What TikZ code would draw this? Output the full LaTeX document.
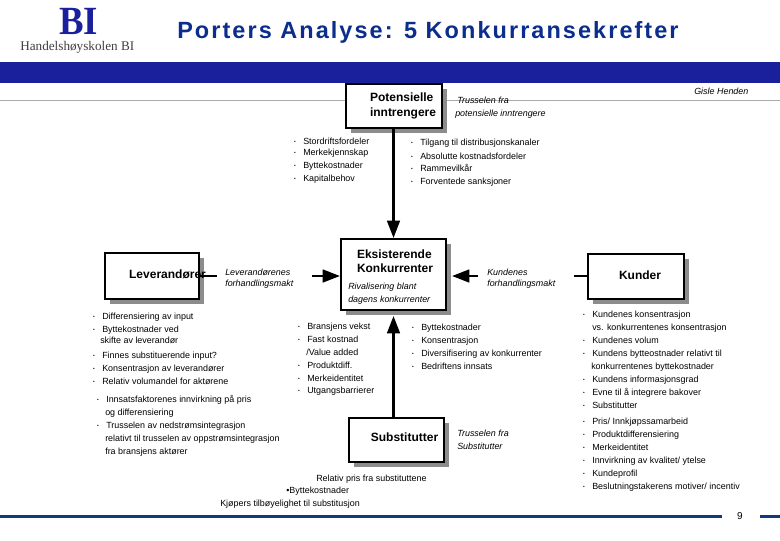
\documentclass[tikz,border=0pt]{standalone}
\usepackage{fontspec}
\usetikzlibrary{arrows.meta,shadows,calc}
\setmainfont{Liberation Sans}
\newfontfamily\serifface{Liberation Serif}
\newfontfamily\titleface[LetterSpace=8.8]{Liberation Sans}
\definecolor{barblue}{HTML}{1A1F9B}
\definecolor{titleblue}{HTML}{0B2E8C}
\definecolor{footblue}{HTML}{123A7A}
\newcommand{\shifted}[3]{\makebox[0pt]{\hspace*{\dimexpr#1pt*3/2\relax}\raisebox{#2pt}[0pt][0pt]{\begin{tabular}{@{}l@{}}#3\end{tabular}}}}
\newcommand{\blt}{\makebox[0pt][r]{\raisebox{.6pt}{\fontsize{3.6}{4}\selectfont •}\hspace{5.6pt}}}
\tikzset{
  box/.style={draw=black,line width=1.5pt,fill=white,inner sep=0pt,
    font=\fontsize{9}{10.8}\selectfont\bfseries,
    copy shadow={shadow xshift=3.5pt,shadow yshift=-3.5pt,draw=none,fill=black!45}},
  sm/.style={anchor=base west,inner sep=0pt,yshift=-2.8pt,font=\fontsize{6.7}{7.5}\selectfont},
  itx/.style={sm,font=\fontsize{6.7}{7.5}\selectfont\itshape},
  conn/.style={line width=1.9pt,draw=black},
  connhead/.style={conn,-{Triangle[length=13pt,width=9.5pt]}}
}
\begin{document}
\begin{tikzpicture}[x=0.75pt,y=-0.75pt]
\useasboundingbox (0,0) rectangle (780,540);
\fill[white] (0,0) rectangle (780,540);
% header
\fill[barblue] (0,62) rectangle (780,83);
\draw[black!33,line width=.8pt] (0,100.5) -- (780,100.5);
\node[inner sep=0pt,text=barblue,anchor=base,font=\fontsize{30}{31}\selectfont\serifface\bfseries] (logo) at (78.5,34) {\scalebox{.92}[1]{BI}};
\node[inner sep=0pt,text=black!75,anchor=base west,font=\fontsize{9.9}{11}\selectfont\serifface] (school) at (20,50) {Handelshøyskolen BI};
\node[inner sep=0pt,text=titleblue,anchor=base west,font=\fontsize{17.6}{20}\selectfont\titleface\bfseries] (title) at (177,38) {Porters Analyse: 5 Konkurransekrefter};
% boxes
\node[box,minimum width=72pt,minimum height=33pt] (pot) at (394,106) {\shifted{9}{-2.2}{Potensielle\\inntrengere}};
\node[box,minimum width=78.75pt,minimum height=53.25pt] (eks) at (393.5,274.5) {\shifted{1.5}{6.8}{Eksisterende\\Konkurrenter}};
\node[box,minimum width=70.5pt,minimum height=34.5pt] (lev) at (152,276) {\shifted{15.5}{-2.2}{Leverandører}};
\node[box,minimum width=72pt,minimum height=33.75pt] (kun) at (636,276.5) {\shifted{4}{-2.2}{Kunder}};
\node[box,minimum width=71.25pt,minimum height=33pt] (sub) at (396.5,440) {\shifted{8}{-1.5}{Substitutter}};
% connectors
\coordinate (levgap) at (217,276);
\coordinate (levin) at (312,276);
\coordinate (kungap) at (574,276);
\coordinate (kunin) at (478,276);
\draw[connhead] (eks.north |- pot.south) -- (eks.north);
\draw[conn] (lev.east |- levgap) -- (levgap);
\draw[connhead] (levin) -- (levin -| eks.west);
\draw[conn] (kun.west |- kungap) -- (kungap);
\draw[connhead] (kunin) -- ($(kunin -| eks.east)+(5,0)$);
\draw[connhead] (eks.south |- sub.north) -- ($(eks.south)+(0,5)$);
% italic notes
\node[itx] (gisle) at (694,91) {Gisle Henden};
\node[itx] (tp1) at (457,100) {Trusselen fra};
\node[itx] (tp2) at (455,113) {potensielle inntrengere};
\node[itx] (lm1) at (225,272) {Leverandørenes};
\node[itx] (lm2) at (225,283) {forhandlingsmakt};
\node[itx] (riv1) at (348,286) {Rivalisering blant};
\node[itx] (riv2) at (348,299) {dagens konkurrenter};
\node[itx] (km1) at (487,272) {Kundenes};
\node[itx] (km2) at (487,283) {forhandlingsmakt};
\node[itx] (ts1) at (457,433) {Trusselen fra};
\node[itx] (ts2) at (457,446) {Substitutter};
% entry barriers
\node[sm] (a1) at (303,141) {\blt Stordriftsfordeler};
\node[sm] (a2) at (303,152) {\blt Merkekjennskap};
\node[sm] (a3) at (303,165) {\blt Byttekostnader};
\node[sm] (a4) at (303,178) {\blt Kapitalbehov};
\node[sm] (b1) at (420,142) {\blt Tilgang til distribusjonskanaler};
\node[sm] (b2) at (420,156) {\blt Absolutte kostnadsfordeler};
\node[sm] (b3) at (420,168) {\blt Rammevilkår};
\node[sm] (b4) at (420,181) {\blt Forventede sanksjoner};
% suppliers
\node[sm] (c1) at (102,316) {\blt Differensiering av input};
\node[sm] (c2) at (102,329) {\blt Byttekostnader ved};
\node[sm] (c3) at (100,340) {skifte av leverandør};
\node[sm] (c4) at (102,355) {\blt Finnes substituerende input?};
\node[sm] (c5) at (102,368) {\blt Konsentrasjon av leverandører};
\node[sm] (c6) at (102,381) {\blt Relativ volumandel for aktørene};
\node[sm] (c7) at (106,399) {\blt Innsatsfaktorenes innvirkning på pris};
\node[sm] (c8) at (105,412) {og differensiering};
\node[sm] (c9) at (106,425) {\blt Trusselen av nedstrømsintegrasjon};
\node[sm] (c10) at (105,438) {relativt til trusselen av oppstrømsintegrasjon};
\node[sm] (c11) at (105,451) {fra bransjens aktører};
% rivalry
\node[sm] (d1) at (307,326) {\blt Bransjens vekst};
\node[sm] (d2) at (307,339) {\blt Fast kostnad};
\node[sm] (d3) at (306,352) {/Value added};
\node[sm] (d4) at (307,365) {\blt Produktdiff.};
\node[sm] (d5) at (307,378) {\blt Merkeidentitet};
\node[sm] (d6) at (307,390) {\blt Utgangsbarrierer};
\node[sm] (e1) at (421,327) {\blt Byttekostnader};
\node[sm] (e2) at (421,340) {\blt Konsentrasjon};
\node[sm] (e3) at (421,353) {\blt Diversifisering av konkurrenter};
\node[sm] (e4) at (421,366) {\blt Bedriftens innsats};
% buyers
\node[sm] (f1) at (592,314) {\blt Kundenes konsentrasjon};
\node[sm] (f2) at (592,327) {vs. konkurrentenes konsentrasjon};
\node[sm] (f3) at (592,340) {\blt Kundenes volum};
\node[sm] (f4) at (592,353) {\blt Kundens bytteostnader relativt til};
\node[sm] (f5) at (591,366) {konkurrentenes byttekostnader};
\node[sm] (f6) at (592,379) {\blt Kundens informasjonsgrad};
\node[sm] (f7) at (592,392) {\blt Evne til å integrere bakover};
\node[sm] (f8) at (592,405) {\blt Substitutter};
\node[sm] (f9) at (592,421) {\blt Pris/ Innkjøpssamarbeid};
\node[sm] (f10) at (592,434) {\blt Produktdifferensiering};
\node[sm] (f11) at (592,447) {\blt Merkeidentitet};
\node[sm] (f12) at (592,460) {\blt Innvirkning av kvalitet/ ytelse};
\node[sm] (f13) at (592,473) {\blt Kundeprofil};
\node[sm] (f14) at (592,486) {\blt Beslutningstakerens motiver/ incentiv};
% substitutes
\node[sm] (g1) at (316,478) {Relativ pris fra substituttene};
\node[sm] (g2) at (286,490) {•Byttekostnader};
\node[sm] (g3) at (220,503) {Kjøpers tilbøyelighet til substitusjon};
% footer
\fill[footblue] (0,515) rectangle (722,518);
\fill[footblue] (760,515) rectangle (780,518);
\node[sm,anchor=base,font=\fontsize{7.5}{8}\selectfont] (page) at (740,516) {9};
\end{tikzpicture}
\end{document}
